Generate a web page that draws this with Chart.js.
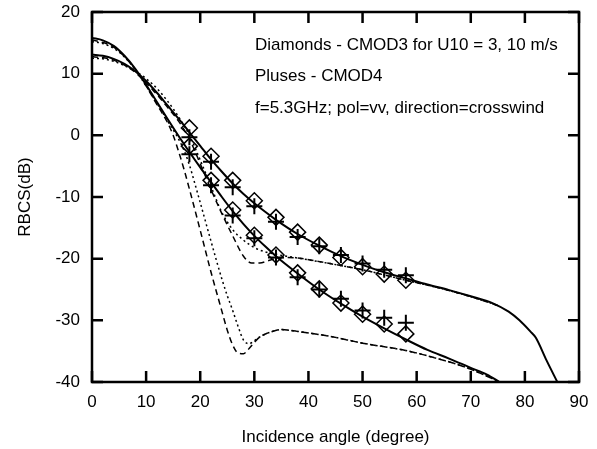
<!DOCTYPE html>
<html>
<head>
<meta charset="UTF-8">
<title>RBCS vs incidence angle</title>
<style>
  html, body { margin: 0; padding: 0; background: #fff; }
  #wrap { width: 597px; height: 449px; position: relative; }
</style>
</head>
<body>
<div id="wrap"><canvas id="chart"></canvas></div>
<script src="https://cdn.jsdelivr.net/npm/chart.js"></script>
<script>
// markers: CMOD3 (diamonds) and CMOD4 (pluses)
const markerAngle = [18, 22, 26, 30, 34, 38, 42, 46, 50, 54, 58];
const cmod3U10 = [1.2, -3.4, -7.3, -10.6, -13.3, -15.7, -17.8, -19.8, -21.3, -22.5, -23.5];
const cmod4U10 = [-0.3, -4.3, -8.4, -11.5, -14.0, -16.5, -18.0, -19.4, -20.8, -21.8, -22.7];
const cmod3U3 = [-1.75, -7.3, -12.1, -16.2, -19.4, -22.3, -24.9, -27.2, -29.0, -30.6, -32.2];
const cmod4U3 = [-3.05, -8.1, -13.0, -16.7, -19.8, -23.0, -25.0, -26.5, -28.4, -29.6, -30.4];

// solid curves
const solid3Angle = [0, 2, 4, 6, 8, 10, 12, 14, 16, 18, 20, 22, 24, 26, 28, 30, 32, 34, 38, 42, 46, 50, 54, 58, 62, 66, 70, 73, 75.3];
const solid3Rbcs = [15.8, 15.4, 14.5, 12.9, 10.8, 8.2, 5.4, 2.6, -0.1, -2.7, -5.2, -7.6, -10.0, -12.3, -14.4, -16.3, -18.0, -19.6, -22.4, -25.0, -27.3, -29.4, -31.3, -33.1, -34.8, -36.2, -37.7, -38.8, -40];
const solid10Angle = [0, 2, 4, 6, 8, 10, 12, 14, 16, 18, 20, 22, 24, 26, 28, 30, 32, 34, 38, 42, 46, 50, 54, 58, 62, 66, 70, 74, 77, 79, 81, 82, 84, 86];
const solid10Rbcs = [13.1, 12.9, 12.4, 11.6, 10.4, 8.8, 6.9, 4.8, 2.7, 0.5, -1.7, -3.9, -5.9, -7.8, -9.5, -11.0, -12.4, -13.7, -16.0, -17.9, -19.6, -21.0, -22.2, -23.2, -24.2, -25.1, -26.1, -27.2, -28.6, -30.0, -31.8, -32.8, -36.5, -40];

// dotted curves
const dotted3Angle = [0, 2, 4, 6, 8, 10, 12, 14, 16, 17, 18, 19, 20, 22, 24, 25, 26, 27, 28, 29, 30, 31, 33, 35, 38, 44, 50, 58, 63, 69, 74.6, 75.3];
const dotted3Rbcs = [15.2, 14.9, 14.1, 12.7, 10.6, 8.0, 5.2, 2.3, -0.6, -2.4, -4.8, -7.8, -10.9, -17.2, -23.3, -26.0, -28.4, -31.0, -33.2, -33.8, -33.3, -32.7, -31.9, -31.5, -31.8, -32.6, -33.7, -34.9, -36.0, -37.6, -39.7, -40];
const dotted10Angle = [0, 2, 4, 6, 8, 10, 12, 14, 16, 18, 20, 22, 24, 26, 28, 30, 32, 34, 36, 38, 44, 50, 58, 63, 69, 73, 75];
const dotted10Rbcs = [12.5, 12.4, 12.0, 11.3, 10.4, 9.2, 7.6, 5.5, 3.0, 0.0, -4.0, -8.3, -12.5, -15.3, -17.0, -18.2, -18.9, -19.3, -19.6, -19.9, -20.8, -21.8, -23.5, -24.5, -25.9, -27.0, -27.6];

// dashed curves
const dashed3Angle = [0, 4, 8, 12, 14, 15, 16, 17, 18, 20, 22, 24, 25, 26, 27, 28, 29, 30, 31, 33, 35, 38, 44, 50, 58, 63, 69, 74.6, 75.3];
const dashed3Rbcs = [15.5, 14.3, 10.7, 5.0, 2.0, 0.0, -2.6, -5.5, -8.7, -15.4, -22.2, -28.5, -31.6, -34.0, -35.3, -35.4, -34.6, -33.6, -32.7, -31.9, -31.5, -31.8, -32.6, -33.7, -34.9, -36.0, -37.6, -39.7, -40];
const dashed10Angle = [0, 4, 8, 12, 14, 16, 18, 20, 22, 24, 26, 28, 29.5, 31, 33, 35, 38, 44, 50, 58, 63, 69, 73, 75];
const dashed10Rbcs = [12.8, 12.2, 10.2, 6.6, 4.5, 2.3, -0.6, -4.6, -8.8, -12.7, -16.3, -19.6, -20.7, -20.7, -20.2, -19.8, -19.9, -20.8, -21.8, -23.5, -24.5, -25.9, -27.0, -27.6];

const xTicks = [0, 10, 20, 30, 40, 50, 60, 70, 80, 90];
const yTicks = [-40, -30, -20, -10, 0, 10, 20];

const notes = [
  'Diamonds - CMOD3 for U10 = 3, 10 m/s',
  'Pluses - CMOD4',
  'f=5.3GHz; pol=vv, direction=crosswind'
];

const FONT = "'Liberation Sans', Arial, Helvetica, sans-serif";

function pts(xs, ys) {
  return xs.map((a, i) => ({ x: a, y: ys[i] }));
}

function curve(xs, ys, dash, width) {
  return {
    type: 'line',
    data: pts(xs, ys),
    borderColor: '#000',
    borderWidth: width,
    borderDash: dash,
    pointRadius: 0,
    fill: false,
    cubicInterpolationMode: 'monotone'
  };
}

function markers(ys, style, radius, width) {
  return {
    type: 'scatter',
    data: pts(markerAngle, ys),
    pointStyle: style,
    pointRadius: radius,
    pointBorderWidth: width,
    borderColor: '#000',
    backgroundColor: 'rgba(0,0,0,0)',
    showLine: false
  };
}

// frame with inward ticks on all four sides, plus the text notes
const framePlugin = {
  id: 'frame',
  afterDraw(chart) {
    const { ctx, chartArea: a, scales } = chart;
    const len = 11;
    ctx.save();
    ctx.strokeStyle = '#000';
    ctx.lineWidth = 2.5;
    ctx.strokeRect(a.left, a.top, a.right - a.left, a.bottom - a.top);
    ctx.beginPath();
    xTicks.forEach(v => {
      const px = scales.x.getPixelForValue(v);
      ctx.moveTo(px, a.bottom); ctx.lineTo(px, a.bottom - len);
      ctx.moveTo(px, a.top); ctx.lineTo(px, a.top + len);
    });
    yTicks.forEach(v => {
      const py = scales.y.getPixelForValue(v);
      ctx.moveTo(a.left, py); ctx.lineTo(a.left + len, py);
      ctx.moveTo(a.right, py); ctx.lineTo(a.right - len, py);
    });
    ctx.stroke();

    ctx.fillStyle = '#000';
    ctx.font = '17px ' + FONT;
    ctx.textBaseline = 'middle';
    ctx.textAlign = 'left';
    notes.forEach((t, i) => ctx.fillText(t, 255, 45 + i * 31.5));
    ctx.restore();
  }
};

Chart.defaults.font.family = FONT;
Chart.defaults.font.size = 17;
Chart.defaults.color = '#000';

new Chart(document.getElementById('chart'), {
  type: 'line',
  data: {
    datasets: [
      curve(dotted3Angle, dotted3Rbcs, [2, 3], 1.5),
      curve(dashed3Angle, dashed3Rbcs, [6, 4], 1.5),
      curve(dotted10Angle, dotted10Rbcs, [2, 3], 1.5),
      curve(dashed10Angle, dashed10Rbcs, [6, 4], 1.5),
      curve(solid3Angle, solid3Rbcs, [], 2),
      curve(solid10Angle, solid10Rbcs, [], 2),
      markers(cmod3U10, 'rectRot', 8, 1.5),
      markers(cmod3U3, 'rectRot', 8, 1.5),
      markers(cmod4U10, 'cross', 8, 2),
      markers(cmod4U3, 'cross', 8, 2)
    ]
  },
  options: {
    responsive: true,
    maintainAspectRatio: false,
    animation: false,
    layout: { padding: { left: 0, right: 18, top: 12, bottom: 0 } },
    plugins: { legend: { display: false }, tooltip: { enabled: false } },
    scales: {
      x: {
        type: 'linear',
        min: 0, max: 90,
        afterFit: s => { s.height = 67; s.paddingLeft = 0; s.paddingRight = 0; },
        afterBuildTicks: s => { s.ticks = xTicks.map(v => ({ value: v })); },
        grid: { display: false, drawTicks: false },
        border: { display: false },
        ticks: { padding: 10, maxRotation: 0 },
        title: { display: true, text: 'Incidence angle (degree)', padding: { top: 0, bottom: 1 } }
      },
      y: {
        type: 'linear',
        min: -40, max: 20,
        afterFit: s => { s.width = 92; s.paddingTop = 0; s.paddingBottom = 0; },
        afterBuildTicks: s => { s.ticks = yTicks.map(v => ({ value: v })); },
        grid: { display: false, drawTicks: false },
        border: { display: false },
        ticks: { padding: 12 },
        title: { display: true, text: 'RBCS(dB)', padding: { top: 15, bottom: 0 } }
      }
    }
  },
  plugins: [framePlugin]
});
</script>
</body>
</html>
